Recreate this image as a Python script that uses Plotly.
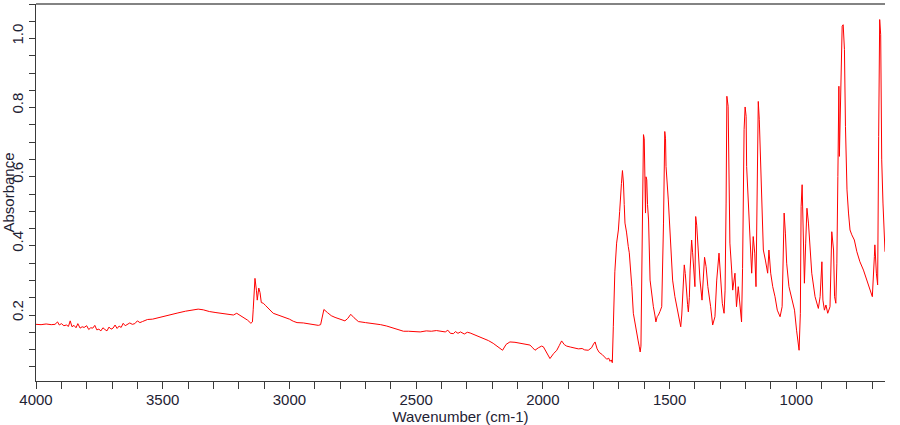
import plotly.graph_objects as go

wavenumber = [
    4000, 3980, 3960, 3940, 3925, 3915, 3908, 3900, 3890, 3880, 3872, 3865, 3858, 3850, 3842, 3835,
    3826, 3818, 3810, 3800, 3792, 3784, 3776, 3768, 3760, 3752, 3744, 3736, 3728, 3720, 3712, 3704,
    3696, 3688, 3680, 3672, 3664, 3656, 3648, 3640, 3630, 3620, 3610, 3600, 3590, 3580, 3570, 3560,
    3540, 3520, 3500, 3470, 3440, 3410, 3380, 3360, 3340, 3316, 3290, 3263, 3240, 3221, 3208, 3195,
    3184, 3165, 3152, 3146, 3143, 3136, 3130, 3127, 3121, 3116, 3111, 3103, 3095, 3083, 3070, 3064,
    3045, 3024, 3000, 2985, 2970, 2945, 2920, 2900, 2886, 2877, 2870, 2864, 2850, 2835, 2820, 2805,
    2794, 2781, 2770, 2758, 2745, 2728, 2700, 2669, 2640, 2616, 2590, 2570, 2550, 2530, 2510, 2484,
    2460, 2440, 2420, 2400, 2385, 2375, 2365, 2353, 2345, 2335, 2325, 2310, 2298, 2287, 2260, 2235,
    2215, 2196, 2175, 2159, 2145, 2130, 2110, 2090, 2070, 2051, 2040, 2031, 2018, 2005, 1998, 1985,
    1972, 1958, 1945, 1935, 1926, 1915, 1906, 1890, 1875, 1860, 1845, 1835, 1821, 1808, 1800, 1794,
    1786, 1778, 1765, 1755, 1748, 1740, 1735, 1730, 1726, 1722, 1716, 1709, 1702, 1697, 1693, 1690,
    1686, 1682, 1679, 1676, 1670, 1666, 1663, 1659, 1656, 1649, 1643, 1636, 1630, 1624, 1620, 1616,
    1613, 1610, 1606, 1603, 1600, 1597, 1595, 1593, 1590, 1587, 1583, 1577, 1570, 1564, 1558, 1554,
    1549, 1544, 1538, 1531, 1524, 1519, 1516, 1514, 1505, 1500, 1494, 1488, 1479, 1465, 1460, 1456,
    1452, 1448, 1442, 1438, 1435, 1429, 1426, 1422, 1419, 1413, 1409, 1406, 1400, 1397, 1393, 1387,
    1380, 1372, 1366, 1362, 1356, 1349, 1338, 1330, 1321, 1314, 1305, 1297, 1292, 1285, 1281, 1277,
    1274, 1269, 1267, 1262, 1255, 1251, 1242, 1236, 1229, 1222, 1216, 1212, 1206, 1202, 1198, 1196,
    1189, 1185, 1180, 1176, 1170, 1164, 1159, 1154, 1150, 1146, 1140, 1136, 1130, 1122, 1116, 1113,
    1108, 1101, 1093, 1084, 1075, 1064, 1056, 1052, 1048, 1043, 1038, 1029, 1018, 1007, 999, 993,
    989, 984, 981, 977, 973, 968, 963, 958, 952, 946, 939, 926, 913, 906, 899, 895,
    889, 883, 876, 867, 860, 853, 849, 844, 840, 836, 832, 830, 824, 819, 815, 810,
    806, 800, 794, 788, 781, 771, 761, 749, 735, 722, 713, 706, 700, 692, 690, 684,
    679, 675, 671, 667, 663, 658, 652, 650,
]

absorbance = [
    0.123, 0.122, 0.124, 0.122, 0.123, 0.130, 0.121, 0.125, 0.119, 0.121, 0.117, 0.133, 0.116, 0.120, 0.113, 0.125,
    0.112, 0.116, 0.114, 0.119, 0.108, 0.113, 0.112, 0.120, 0.107, 0.109, 0.104, 0.113, 0.108, 0.104, 0.115, 0.109,
    0.112, 0.121, 0.111, 0.118, 0.114, 0.126, 0.119, 0.122, 0.127, 0.123, 0.125, 0.133, 0.128, 0.131, 0.134, 0.137,
    0.138, 0.142, 0.145, 0.150, 0.156, 0.161, 0.165, 0.167, 0.165, 0.160, 0.157, 0.155, 0.153, 0.150, 0.155, 0.149,
    0.145, 0.135, 0.126, 0.130, 0.165, 0.256, 0.220, 0.193, 0.228, 0.215, 0.186, 0.184, 0.178, 0.169, 0.160, 0.155,
    0.150, 0.145, 0.138, 0.132, 0.128, 0.127, 0.124, 0.121, 0.120, 0.122, 0.150, 0.166, 0.157, 0.148, 0.143, 0.139,
    0.137, 0.133, 0.140, 0.152, 0.142, 0.131, 0.128, 0.126, 0.122, 0.118, 0.112, 0.107, 0.103, 0.103, 0.102, 0.101,
    0.104, 0.103, 0.105, 0.103, 0.101, 0.106, 0.097, 0.096, 0.102, 0.097, 0.101, 0.095, 0.100, 0.098, 0.090, 0.082,
    0.076, 0.068, 0.058, 0.048, 0.065, 0.072, 0.071, 0.068, 0.066, 0.063, 0.055, 0.048, 0.055, 0.060, 0.058, 0.040,
    0.024, 0.038, 0.048, 0.062, 0.075, 0.064, 0.060, 0.057, 0.055, 0.052, 0.053, 0.049, 0.048, 0.055, 0.066, 0.072,
    0.052, 0.042, 0.035, 0.027, 0.022, 0.025, 0.016, 0.020, 0.012, 0.116, 0.275, 0.358, 0.396, 0.450, 0.522, 0.530,
    0.568, 0.532, 0.470, 0.416, 0.390, 0.360, 0.348, 0.330, 0.304, 0.232, 0.155, 0.120, 0.097, 0.075, 0.060, 0.043,
    0.060, 0.261, 0.662, 0.672, 0.660, 0.520, 0.445, 0.550, 0.541, 0.470, 0.425, 0.251, 0.200, 0.174, 0.150, 0.130,
    0.145, 0.150, 0.160, 0.174, 0.416, 0.681, 0.660, 0.580, 0.483, 0.420, 0.358, 0.251, 0.203, 0.155, 0.140, 0.116,
    0.150, 0.222, 0.295, 0.270, 0.232, 0.180, 0.159, 0.200, 0.280, 0.367, 0.330, 0.300, 0.232, 0.435, 0.410, 0.338,
    0.251, 0.193, 0.280, 0.317, 0.290, 0.232, 0.174, 0.121, 0.145, 0.251, 0.329, 0.232, 0.184, 0.155, 0.222, 0.474,
    0.783, 0.754, 0.570, 0.358, 0.280, 0.222, 0.271, 0.174, 0.232, 0.164, 0.130, 0.285, 0.686, 0.752, 0.725, 0.580,
    0.483, 0.387, 0.319, 0.271, 0.377, 0.329, 0.232, 0.522, 0.768, 0.715, 0.570, 0.445, 0.338, 0.309, 0.290, 0.271,
    0.338, 0.271, 0.232, 0.203, 0.164, 0.145, 0.174, 0.309, 0.445, 0.387, 0.300, 0.232, 0.198, 0.164, 0.106, 0.070,
    0.048, 0.155, 0.464, 0.527, 0.358, 0.242, 0.358, 0.459, 0.416, 0.348, 0.271, 0.203, 0.169, 0.203, 0.304, 0.193,
    0.164, 0.179, 0.155, 0.174, 0.391, 0.338, 0.203, 0.184, 0.300, 0.551, 0.812, 0.609, 0.783, 0.986, 0.990, 0.918,
    0.696, 0.512, 0.445, 0.396, 0.382, 0.367, 0.333, 0.304, 0.280, 0.251, 0.227, 0.215, 0.203, 0.319, 0.353, 0.271,
    0.237, 0.667, 1.005, 0.961, 0.599, 0.474, 0.372, 0.333,
]

x_tick_values = [4000, 3500, 3000, 2500, 2000, 1500, 1000]
x_tick_labels = ["4000", "3500", "3000", "2500", "2000", "1500", "1000"]
y_tick_values = [0.2, 0.4, 0.6, 0.8, 1.0]
y_tick_labels = ["0.2", "0.4", "0.6", "0.8", "1.0"]

FONT = "Liberation Sans, Arial, sans-serif"
TXT = "#1e2233"
AX = "#3a3a3a"

fig = go.Figure()
fig.add_trace(go.Scatter(
    x=wavenumber, y=absorbance, mode="lines",
    line=dict(color="#ff0000", width=1), showlegend=False, hoverinfo="x+y",
))

fig.update_layout(
    width=900, height=425,
    margin=dict(l=36, r=15, t=4, b=44, autoexpand=False),
    paper_bgcolor="white", plot_bgcolor="white",
    font=dict(family=FONT, size=15, color=TXT),
    showlegend=False,
    xaxis=dict(
        range=[4000, 650], autorange=False, automargin=False,
        tickmode="array", tickvals=x_tick_values, ticktext=x_tick_labels,
        ticks="outside", ticklen=7, tickwidth=1, tickcolor=AX,
        ticklabelstandoff=-2,
        minor=dict(dtick=100, tick0=0, ticks="outside", ticklen=7, tickwidth=1, tickcolor=AX, showgrid=False),
        showline=True, linecolor=AX, linewidth=1, mirror=False,
        showgrid=False, zeroline=False,
        tickfont=dict(family=FONT, size=15, color=TXT),
        title=dict(text="Wavenumber (cm-1)", standoff=0, font=dict(family=FONT, size=15, color=TXT)),
    ),
    yaxis=dict(
        range=[-0.041, 1.05], autorange=False, automargin=False,
        tickmode="array", tickvals=y_tick_values, ticktext=y_tick_labels,
        tickangle=-90, ticklabelshift=15,
        ticks="outside", ticklen=6, tickwidth=1, tickcolor=AX,
        minor=dict(dtick=0.05, tick0=0, ticks="outside", ticklen=6, tickwidth=1, tickcolor=AX, showgrid=False),
        showline=True, linecolor=AX, linewidth=1, mirror=False,
        showgrid=False, zeroline=False,
        tickfont=dict(family=FONT, size=15, color=TXT),
        title=dict(text="Absorbance", standoff=0, font=dict(family=FONT, size=15, color=TXT)),
    ),
    shapes=[dict(type="line", xref="paper", yref="paper", x0=0, x1=1, y0=1, y1=1,
                 line=dict(color="#5a5a5a", width=1.5))],
)

fig.write_html("out.html")
